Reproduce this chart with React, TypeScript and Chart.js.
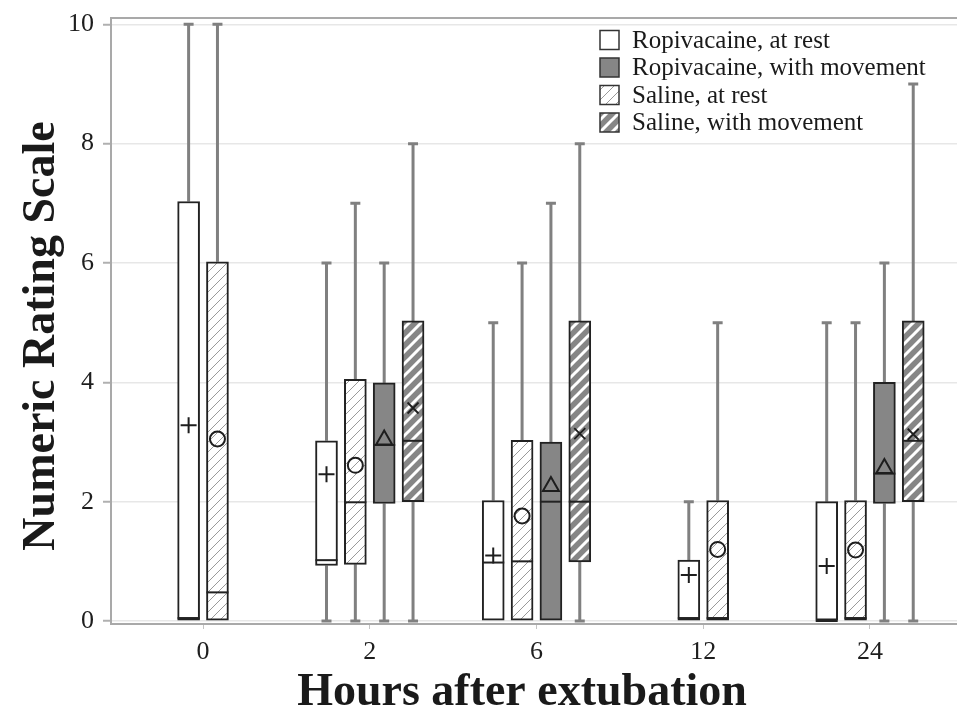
import React, { useEffect, useRef } from 'react';
import { Chart, registerables } from 'chart.js';

Chart.register(...registerables);

// ---------- data ----------
const hours = ['0', '2', '6', '12', '24'];
const yTicks = [0, 2, 4, 6, 8, 10];
const xTitle = 'Hours after extubation';
const yTitle = 'Numeric Rating Scale';

// Ropivacaine, at rest (mean marker "+")
const ropiRestMin = [0, 0, 0, 0, 0];
const ropiRestQ1 = [0, 0.93, 0, 0, 0];
const ropiRestMedian = [0.05, 1.02, 0.98, 0.05, 0];
const ropiRestQ3 = [7.03, 3.02, 2.02, 1.02, 2.0];
const ropiRestMax = [10, 6, 5, 2, 5];
const ropiRestMean = [3.28, 2.46, 1.1, 0.77, 0.92];

// Saline, at rest (mean marker "o")
const salRestMin = [0, 0, 0, 0, 0];
const salRestQ1 = [0, 0.95, 0, 0, 0];
const salRestMedian = [0.48, 1.99, 1.0, 0.05, 0.05];
const salRestQ3 = [6.02, 4.05, 3.03, 2.02, 2.02];
const salRestMax = [10, 7, 6, 5, 5];
const salRestMean = [3.05, 2.61, 1.76, 1.2, 1.19];

// Ropivacaine, with movement (mean marker triangle)
const ropiMoveMin = [null, 0, 0, null, 0];
const ropiMoveQ1 = [null, 1.97, 0, null, 1.97];
const ropiMoveMedian = [null, 2.95, 2.0, null, 2.47];
const ropiMoveQ3 = [null, 3.99, 3.0, null, 4.0];
const ropiMoveMax = [null, 6, 7, null, 6];
const ropiMoveMean = [null, 3.06, 2.28, null, 2.58];

// Saline, with movement (mean marker "x")
const salMoveMin = [null, 0, 0, null, 0];
const salMoveQ1 = [null, 2.0, 0.99, null, 2.0];
const salMoveMedian = [null, 3.02, 2.0, null, 3.02];
const salMoveQ3 = [null, 5.03, 5.03, null, 5.03];
const salMoveMax = [null, 8, 8, null, 9];
const salMoveMean = [null, 3.57, 3.14, null, 3.13];

// ---------- styling constants ----------
const SLOT = 0.173; // spacing between boxes of one group, in category units
const SERIF = '"Liberation Serif", "Times New Roman", serif';
const GREY = '#868686';
const BORDER = '#222222';
const WHISKER = '#808080';
const FRAME = '#a9a9a9';

function makeHatch(bg: string, line: string, lw: number, size: number): any {
  const c = document.createElement('canvas');
  c.width = size;
  c.height = size;
  const g = c.getContext('2d')!;
  g.fillStyle = bg;
  g.fillRect(0, 0, size, size);
  g.strokeStyle = line;
  g.lineWidth = lw;
  g.beginPath();
  g.moveTo(0, size);
  g.lineTo(size, 0);
  g.moveTo(-size / 2, size / 2);
  g.lineTo(size / 2, -size / 2);
  g.moveTo(size / 2, size * 1.5);
  g.lineTo(size * 1.5, size / 2);
  g.stroke();
  return g.createPattern(c, 'repeat');
}

type Marker = 'plus' | 'circle' | 'triangle' | 'cross';

function drawMarker(ctx: CanvasRenderingContext2D, m: Marker, x: number, y: number) {
  ctx.save();
  ctx.strokeStyle = '#1e1e1e';
  ctx.lineWidth = 2;
  ctx.beginPath();
  if (m === 'plus') {
    ctx.moveTo(x - 8, y);
    ctx.lineTo(x + 8, y);
    ctx.moveTo(x, y - 8);
    ctx.lineTo(x, y + 8);
  } else if (m === 'circle') {
    ctx.arc(x, y, 7.5, 0, Math.PI * 2);
  } else if (m === 'triangle') {
    ctx.moveTo(x - 8, y + 6);
    ctx.lineTo(x + 8, y + 6);
    ctx.lineTo(x, y - 8);
    ctx.closePath();
  } else {
    ctx.lineWidth = 1.8;
    ctx.moveTo(x - 5.5, y - 5.5);
    ctx.lineTo(x + 5.5, y + 5.5);
    ctx.moveTo(x + 5.5, y - 5.5);
    ctx.lineTo(x - 5.5, y + 5.5);
  }
  ctx.stroke();
  ctx.restore();
}

const legendOrder = [0, 2, 1, 3];

const boxPlugin = {
  id: 'boxExtras',
  beforeDatasetsDraw(chart: any) {
    const ctx = chart.ctx as CanvasRenderingContext2D;
    const ys = chart.scales.y;
    ctx.save();
    ctx.strokeStyle = WHISKER;
    ctx.lineWidth = 3;
    chart.data.datasets.forEach((ds: any, i: number) => {
      const meta = chart.getDatasetMeta(i);
      meta.data.forEach((el: any, k: number) => {
        const j = ds.data[k].cat;
        const st = ds.stats;
        const x = el.x;
        const pairs = [
          [st.q3[j], st.max[j]],
          [st.q1[j], st.min[j]],
        ];
        pairs.forEach(([from, to]) => {
          if (from === to) return;
          const y1 = ys.getPixelForValue(from);
          const y2 = ys.getPixelForValue(to);
          ctx.beginPath();
          ctx.moveTo(x, y1);
          ctx.lineTo(x, y2);
          ctx.moveTo(x - 5, y2);
          ctx.lineTo(x + 5, y2);
          ctx.stroke();
        });
      });
    });
    ctx.restore();
  },
  afterDatasetsDraw(chart: any) {
    const ctx = chart.ctx as CanvasRenderingContext2D;
    const ys = chart.scales.y;
    chart.data.datasets.forEach((ds: any, i: number) => {
      const meta = chart.getDatasetMeta(i);
      meta.data.forEach((el: any, k: number) => {
        const j = ds.data[k].cat;
        const st = ds.stats;
        const half = el.width / 2;
        const ym = ys.getPixelForValue(st.median[j]);
        ctx.save();
        ctx.strokeStyle = BORDER;
        ctx.lineWidth = 2;
        ctx.beginPath();
        ctx.moveTo(el.x - half, ym);
        ctx.lineTo(el.x + half, ym);
        ctx.stroke();
        ctx.restore();
        drawMarker(ctx, ds.marker, el.x, ys.getPixelForValue(st.mean[j]));
      });
    });
  },
  afterDraw(chart: any) {
    const ctx = chart.ctx as CanvasRenderingContext2D;
    const area = chart.chartArea;
    // legend inside the plot, top right
    const x0 = area.right - 357;
    const y0 = area.top + 22;
    const step = 27.5;
    ctx.save();
    legendOrder.forEach((di, r) => {
      const ds = chart.data.datasets[di];
      const cy = y0 + r * step;
      ctx.fillStyle = ds.backgroundColor;
      ctx.fillRect(x0, cy - 9.5, 19, 19);
      ctx.strokeStyle = '#333';
      ctx.lineWidth = 1.5;
      ctx.strokeRect(x0, cy - 9.5, 19, 19);
      ctx.fillStyle = '#1a1a1a';
      ctx.font = `25px ${SERIF}`;
      ctx.textBaseline = 'middle';
      ctx.textAlign = 'left';
      ctx.fillText(ds.label, x0 + 32, cy + 1);
    });
    // axis titles
    ctx.fillStyle = '#1a1a1a';
    ctx.font = `bold 46px ${SERIF}`;
    ctx.textAlign = 'center';
    ctx.textBaseline = 'alphabetic';
    ctx.fillText(xTitle, area.left + 411, chart.height - 10);
    ctx.translate(54, area.top + 318);
    ctx.rotate(-Math.PI / 2);
    ctx.fillText(yTitle, 0, 0);
    ctx.restore();
  },
};

export default function App() {
  const ref = useRef<HTMLCanvasElement | null>(null);

  useEffect(() => {
    const canvas = ref.current;
    if (!canvas) return;

    const hatchLight = makeHatch('#ffffff', '#9a9a9a', 1, 10);
    const hatchDark = makeHatch(GREY, '#ffffff', 3, 12);

    const series = [
      { label: 'Ropivacaine, at rest', min: ropiRestMin, q1: ropiRestQ1, median: ropiRestMedian, q3: ropiRestQ3, max: ropiRestMax, mean: ropiRestMean, marker: 'plus', fill: '#ffffff' },
      { label: 'Saline, at rest', min: salRestMin, q1: salRestQ1, median: salRestMedian, q3: salRestQ3, max: salRestMax, mean: salRestMean, marker: 'circle', fill: hatchLight },
      { label: 'Ropivacaine, with movement', min: ropiMoveMin, q1: ropiMoveQ1, median: ropiMoveMedian, q3: ropiMoveQ3, max: ropiMoveMax, mean: ropiMoveMean, marker: 'triangle', fill: GREY },
      { label: 'Saline, with movement', min: salMoveMin, q1: salMoveQ1, median: salMoveMedian, q3: salMoveQ3, max: salMoveMax, mean: salMoveMean, marker: 'cross', fill: hatchDark },
    ];

    const datasets = series.map((s, si) => {
      const data: any[] = [];
      hours.forEach((_, j) => {
        if (s.q3[j] == null) return;
        const present = series.map((t, ti) => (t.q3[j] == null ? -1 : ti)).filter((t) => t >= 0);
        const r = present.indexOf(si);
        const n = present.length;
        data.push({ x: j + (r - (n - 1) / 2) * SLOT, y: [s.q1[j], s.q3[j]], cat: j });
      });
      return {
        type: 'bar',
        label: s.label,
        data,
        stats: s,
        marker: s.marker,
        backgroundColor: s.fill,
        borderColor: BORDER,
        borderWidth: 2,
        borderSkipped: false,
        barThickness: 22,
        grouped: false,
      };
    });

    const chart = new Chart(canvas, {
      type: 'bar',
      data: { datasets: datasets as any },
      plugins: [boxPlugin],
      options: {
        animation: false,
        responsive: false,
        layout: { padding: { top: 18, left: 0, right: 0, bottom: 0 } },
        plugins: {
          legend: { display: false },
          tooltip: { enabled: false },
        },
        scales: {
          x: {
            type: 'linear',
            position: 'bottom',
            min: -0.552,
            max: 4.522,
            offset: false,
            afterBuildTicks: (axis: any) => {
              axis.ticks = hours.map((_, i) => ({ value: i }));
            },
            afterFit: (scale: any) => {
              scale.height = 91;
              scale.paddingLeft = 0;
              scale.paddingRight = 0;
            },
            ticks: {
              callback: (v: any) => hours[v as number] ?? '',
              color: '#1e1e1e',
              font: { family: SERIF, size: 26 },
              padding: 8,
              maxRotation: 0,
            },
            grid: {
              drawOnChartArea: false,
              drawTicks: true,
              tickLength: 5,
              tickColor: '#c4c4c4',
              offset: false,
            },
            border: { color: FRAME, width: 2 },
          },
          x2: {
            type: 'linear',
            position: 'top',
            min: -0.552,
            max: 4.522,
            afterFit: (scale: any) => {
              scale.height = 0;
            },
            ticks: { display: false },
            grid: { display: false },
            border: { display: true, color: FRAME, width: 2 },
          },
          y: {
            type: 'linear',
            min: -0.05,
            max: 10.106,
            afterBuildTicks: (axis: any) => {
              axis.ticks = yTicks.map((v) => ({ value: v }));
            },
            afterFit: (scale: any) => {
              scale.width = 111;
              scale.paddingTop = 0;
              scale.paddingBottom = 0;
            },
            ticks: {
              callback: (v: any) => String(v),
              color: '#1e1e1e',
              font: { family: SERIF, size: 26 },
              padding: 9,
            },
            grid: {
              color: '#e7e7e7',
              lineWidth: 1.5,
              tickColor: '#b0b0b0',
              tickLength: 8,
              tickWidth: 2,
            },
            border: { color: FRAME, width: 2 },
          },
        },
      } as any,
    });

    return () => chart.destroy();
  }, []);

  return (
    <div style={{ position: 'fixed', left: 0, top: 0, width: 957, height: 715, background: '#ffffff' }}>
      <canvas ref={ref} width={957} height={715} style={{ width: 957, height: 715, display: 'block' }} />
    </div>
  );
}
